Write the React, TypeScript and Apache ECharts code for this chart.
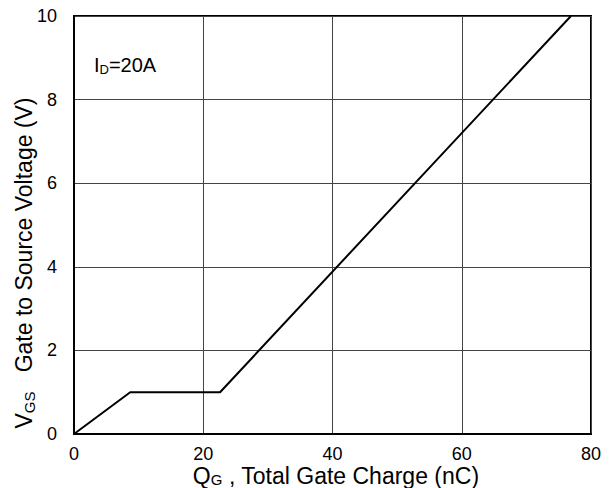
import React, { useEffect, useRef } from "react";
import * as echarts from "echarts";

// Gate charge characteristic (I_D = 20A)
const gateCharge = [0, 8.7, 22.6, 76.9]; // Q_G (nC)
const gateVoltage = [0, 1.0, 1.0, 10]; // V_GS (V)

const xTicks = { min: 0, max: 80, interval: 20 };
const yTicks = { min: 0, max: 10, interval: 2 };

export default function App() {
  const ref = useRef<HTMLDivElement>(null);

  useEffect(() => {
    if (!ref.current) return;
    const chart = echarts.init(ref.current, null, { renderer: "svg" });
    const font = "Liberation Sans, Arial, sans-serif";
    const data = gateCharge.map((q, i) => [q, gateVoltage[i]]);

    chart.setOption({
      animation: false,
      backgroundColor: "#ffffff",
      grid: {
        left: 74,
        right: 18,
        top: 16,
        bottom: 54,
        show: true,
        borderColor: "#000",
        borderWidth: 2,
        backgroundColor: "transparent",
      },
      xAxis: {
        type: "value",
        min: xTicks.min,
        max: xTicks.max,
        interval: xTicks.interval,
        axisLine: { show: true, lineStyle: { color: "#000", width: 2 } },
        axisTick: { show: false },
        splitLine: { show: true, lineStyle: { color: "#444", width: 1 } },
        axisLabel: { color: "#000", fontSize: 18, lineHeight: 16, fontFamily: font, margin: 12 },
      },
      yAxis: {
        type: "value",
        min: yTicks.min,
        max: yTicks.max,
        interval: yTicks.interval,
        axisLine: { show: true, lineStyle: { color: "#000", width: 2 } },
        axisTick: { show: false },
        splitLine: { show: true, lineStyle: { color: "#444", width: 1 } },
        axisLabel: { color: "#000", fontSize: 18, fontFamily: font, margin: 17 },
      },
      series: [
        {
          type: "line",
          data,
          symbol: "none",
          lineStyle: { color: "#000", width: 2 },
          silent: true,
        },
      ],
      graphic: [
        {
          type: "text",
          left: 94,
          top: 55,
          style: {
            text: "{a|I}{b|D}{a|=20A}",
            rich: {
              a: { fontSize: 20, fontFamily: font, fill: "#000", lineHeight: 22 },
              b: { fontSize: 13, fontFamily: font, fill: "#000", lineHeight: 13, verticalAlign: "bottom", padding: [7, 0, 0, 0] },
            },
          },
        },
        {
          type: "text",
          x: 336,
          y: 476,
          style: {
            text: "{a|Q}{b|G}{a| , Total Gate Charge (nC)}",
            align: "center",
            verticalAlign: "middle",
            rich: {
              a: { fontSize: 23, fontFamily: font, fill: "#000", lineHeight: 22 },
              b: { fontSize: 15, fontFamily: font, fill: "#000", lineHeight: 14, verticalAlign: "bottom", padding: [7, 0, 0, 0] },
            },
          },
        },
        {
          type: "text",
          x: 24,
          y: 263,
          rotation: Math.PI / 2,
          style: {
            text: "{a|V}{b|GS}{a|   Gate to Source Voltage (V)}",
            align: "center",
            verticalAlign: "middle",
            rich: {
              a: { fontSize: 23, fontFamily: font, fill: "#000", lineHeight: 25 },
              b: { fontSize: 15, fontFamily: font, fill: "#000", lineHeight: 15, verticalAlign: "bottom", padding: [8, 0, 0, 0] },
            },
          },
        },
      ],
    });

    return () => chart.dispose();
  }, []);

  return (
    <div
      ref={ref}
      style={{ position: "fixed", left: 0, top: 0, width: 609, height: 488 }}
    />
  );
}
